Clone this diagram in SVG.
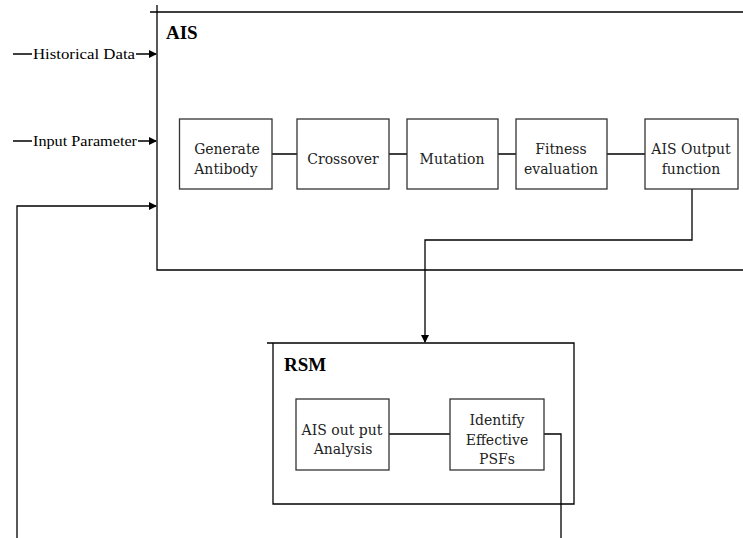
<svg xmlns="http://www.w3.org/2000/svg" width="743" height="538" viewBox="0 0 743 538">
<defs>
<marker id="ah" markerWidth="8" markerHeight="8" refX="7" refY="4" orient="auto" markerUnits="userSpaceOnUse"><path d="M0,0 L8,4 L0,8 Z" fill="#000"/></marker>
<style>
.ln{stroke:#000;stroke-width:1.3;fill:none}
.bx{stroke:#333;stroke-width:1.3;fill:#fff}
.t{font-family:"DejaVu Serif",serif;font-size:14px;fill:#222;text-anchor:middle}
.s{font-family:"Liberation Serif","Times New Roman",serif;font-size:15px;fill:#000}
.h{font-family:"Liberation Serif","Times New Roman",serif;font-size:19px;font-weight:bold;fill:#000}
</style>
</defs>
<rect width="743" height="538" fill="#fff"/>
<g id="ais-frame">
<path class="ln" d="M157,5 V270 H743 M150,12 H743"/>
<text class="h" x="166" y="39">AIS</text>
</g>
<g id="rsm-frame">
<path class="ln" d="M267,343 H574 V504 H273 V343"/>
<text class="h" x="284" y="371">RSM</text>
</g>
<g id="connectors">
<path class="ln" d="M13,54 H32 M136,54 H156" marker-end="url(#ah)"/>
<path class="ln" d="M13,141 H32 M138,141 H156" marker-end="url(#ah)"/>
<path class="ln" d="M17,538 V206 H156" marker-end="url(#ah)"/>
<path class="ln" d="M272,154 H297 M389,154 H407 M498,154 H516 M607,154 H645"/>
<path class="ln" d="M692,189 V240 H425 V342" marker-end="url(#ah)"/>
<path class="ln" d="M385,434 H450"/>
<path class="ln" d="M544,434 H561 V538"/>
</g>
<g id="lbl-hist"><text class="s" x="33" y="59" textLength="102" lengthAdjust="spacingAndGlyphs">Historical Data</text></g>
<g id="lbl-input"><text class="s" x="33" y="146" textLength="104" lengthAdjust="spacingAndGlyphs">Input Parameter</text></g>
<g id="n-generate"><rect class="bx" x="179.5" y="119" width="92.5" height="70"/><text class="t" x="227" y="154">Generate</text><text class="t" x="226" y="174">Antibody</text></g>
<g id="n-crossover"><rect class="bx" x="297" y="119" width="92" height="70"/><text class="t" x="343" y="164">Crossover</text></g>
<g id="n-mutation"><rect class="bx" x="407" y="119" width="91" height="70"/><text class="t" x="452" y="164">Mutation</text></g>
<g id="n-fitness"><rect class="bx" x="516" y="119" width="91" height="70"/><text class="t" x="561" y="154">Fitness</text><text class="t" x="561" y="174">evaluation</text></g>
<g id="n-aisout"><rect class="bx" x="645" y="119" width="93" height="70"/><text class="t" x="691" y="154">AIS Output</text><text class="t" x="691" y="174">function</text></g>
<g id="n-analysis"><rect class="bx" x="296" y="399" width="93" height="71"/><text class="t" x="342" y="435">AIS out put</text><text class="t" x="343" y="454">Analysis</text></g>
<g id="n-identify"><rect class="bx" x="450" y="399" width="94" height="71"/><text class="t" x="497" y="425">Identify</text><text class="t" x="497" y="445">Effective</text><text class="t" x="497" y="464">PSFs</text></g>
</svg>
